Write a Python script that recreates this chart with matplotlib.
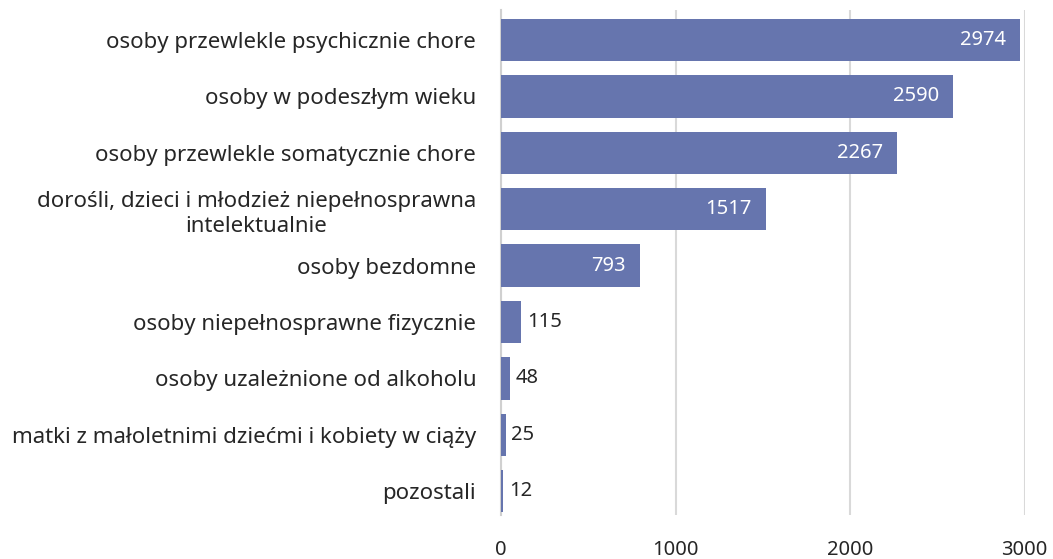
import matplotlib.pyplot as plt

categories = [
    "osoby przewlekle psychicznie chore",
    "osoby w podeszłym wieku",
    "osoby przewlekle somatycznie chore",
    "dorośli, dzieci i młodzież niepełnosprawna\nintelektualnie",
    "osoby bezdomne",
    "osoby niepełnosprawne fizycznie",
    "osoby uzależnione od alkoholu",
    "matki z małoletnimi dziećmi i kobiety w ciąży",
    "pozostali",
]
values = [2974, 2590, 2267, 1517, 793, 115, 48, 25, 12]
xticks = [0, 1000, 2000, 3000]

plt.rcParams['font.family'] = ['Noto Sans', 'DejaVu Sans']

fig = plt.figure(figsize=(10.53, 5.59), dpi=100)
ax = fig.add_axes([0.476, 0.079, 0.497, 0.903])

pos = list(range(len(categories)))
ax.barh(pos, values, height=0.75, color='#6675ae', zorder=3)

for p, v in zip(pos, values):
    if v > 500:
        ax.annotate(str(v), (v, p), xytext=(-10, 0), textcoords='offset points',
                    ha='right', va='center', color='white', fontsize=14.5, zorder=4)
    else:
        ax.annotate(str(v), (v, p), xytext=(4, 0), textcoords='offset points',
                    ha='left', va='center', color='#262626', fontsize=14.5, zorder=4)

ax.set_yticks(pos)
ax.set_yticklabels(categories, fontsize=16, color='#262626', multialignment='center',
                   linespacing=1.3)
ax.set_ylim(8.42, -0.53)
ax.set_xlim(0, 3000)
ax.set_xticks(xticks)
ax.tick_params(axis='x', length=0, pad=18, labelsize=14.5, labelcolor='#262626')
ax.tick_params(axis='y', length=0, pad=18)

ax.grid(axis='x', color='#d9d9d9', linewidth=1.5, zorder=0)
for s in ['top', 'right', 'bottom']:
    ax.spines[s].set_visible(False)
ax.spines['left'].set_color('#d0d0d0')
ax.spines['left'].set_linewidth(1.5)

fig.savefig('out.png', dpi=100)
